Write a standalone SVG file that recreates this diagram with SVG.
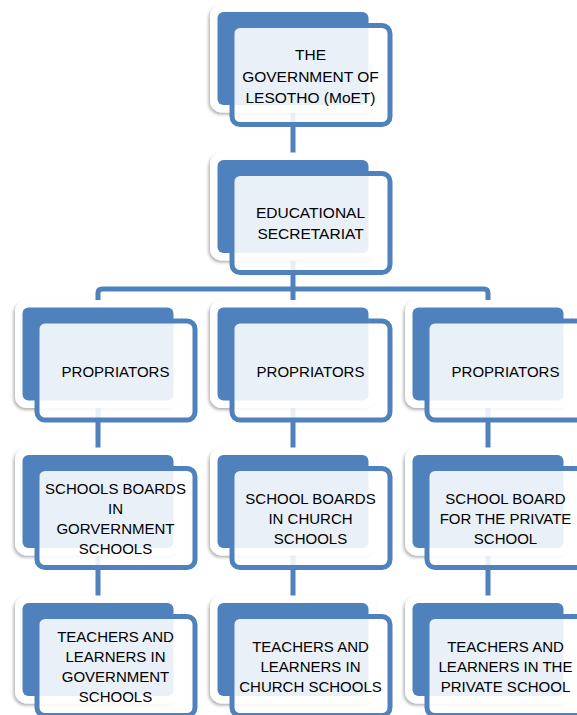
<svg xmlns="http://www.w3.org/2000/svg" width="577" height="715" viewBox="0 0 577 715">
  <defs>
    <filter id="soft" x="-10%" y="-10%" width="125%" height="125%">
      <feDropShadow dx="-1.5" dy="2" stdDeviation="1.8" flood-color="#000" flood-opacity="0.3"/>
    </filter>
  </defs>
  <style>
    .wire{fill:none;stroke:#4F81BD;stroke-width:5;stroke-linejoin:round}
    .mat{fill:#fff;filter:url(#soft)}
    .tab{fill:#4F81BD}
    .card{fill:#fff;fill-opacity:0.88;stroke:#4F81BD;stroke-width:5}
    text{font-family:"Liberation Sans",Arial,sans-serif;font-size:15px;fill:#000;text-anchor:middle}
    .big{font-size:15.5px}
  </style>
  <rect width="577" height="715" fill="#fff"/>

  <!-- connectors sit beneath the boxes -->
  <g id="connectors" class="wire">
    <path d="M293,58 V206"/>
    <path d="M293,206 V354"/>
    <path d="M98,354 V293 Q98,289 102,289 H484 Q488,289 488,293 V354"/>
    <path d="M98,354 V650"/>
    <path d="M293,354 V650"/>
    <path d="M488,354 V650"/>
  </g>

  <!-- level 1 -->
  <g id="ministry" transform="translate(217.5,12)">
    <rect class="mat" x="-7.5" y="-7.5" width="166" height="108" rx="12"/>
    <rect class="tab" width="151" height="93" rx="6"/>
    <rect class="card" x="14.5" y="13.5" width="158" height="99" rx="8"/>
    <text class="big" x="93" y="48">THE</text>
    <text class="big" x="93" y="69.5">GOVERNMENT OF</text>
    <text class="big" x="93" y="91">LESOTHO (MoET)</text>
  </g>

  <!-- level 2 -->
  <g id="secretariat" transform="translate(217.5,160)">
    <rect class="mat" x="-7.5" y="-7.5" width="166" height="108" rx="12"/>
    <rect class="tab" width="151" height="93" rx="6"/>
    <rect class="card" x="14.5" y="13.5" width="158" height="99" rx="8"/>
    <text class="big" x="93" y="58">EDUCATIONAL</text>
    <text class="big" x="93" y="79">SECRETARIAT</text>
  </g>

  <!-- level 3: proprietors -->
  <g id="proprietors-gov" transform="translate(22.5,307.5)">
    <rect class="mat" x="-7.5" y="-7.5" width="166" height="108" rx="12"/>
    <rect class="tab" width="151" height="93" rx="6"/>
    <rect class="card" x="14.5" y="13.5" width="158" height="99" rx="8"/>
    <text x="93" y="69">PROPRIATORS</text>
  </g>
  <g id="proprietors-church" transform="translate(217.5,307.5)">
    <rect class="mat" x="-7.5" y="-7.5" width="166" height="108" rx="12"/>
    <rect class="tab" width="151" height="93" rx="6"/>
    <rect class="card" x="14.5" y="13.5" width="158" height="99" rx="8"/>
    <text x="93" y="69">PROPRIATORS</text>
  </g>
  <g id="proprietors-private" transform="translate(412.5,307.5)">
    <rect class="mat" x="-7.5" y="-7.5" width="166" height="108" rx="12"/>
    <rect class="tab" width="151" height="93" rx="6"/>
    <rect class="card" x="14.5" y="13.5" width="158" height="99" rx="8"/>
    <text x="93" y="69">PROPRIATORS</text>
  </g>

  <!-- level 4: school boards -->
  <g id="boards-gov" transform="translate(22.5,455)">
    <rect class="mat" x="-7.5" y="-7.5" width="166" height="108" rx="12"/>
    <rect class="tab" width="151" height="93" rx="6"/>
    <rect class="card" x="14.5" y="13.5" width="158" height="99" rx="8"/>
    <text x="93" y="38.5">SCHOOLS BOARDS</text>
    <text x="93" y="58.5">IN</text>
    <text x="93" y="78.5">GORVERNMENT</text>
    <text x="93" y="98.5">SCHOOLS</text>
  </g>
  <g id="boards-church" transform="translate(217.5,455)">
    <rect class="mat" x="-7.5" y="-7.5" width="166" height="108" rx="12"/>
    <rect class="tab" width="151" height="93" rx="6"/>
    <rect class="card" x="14.5" y="13.5" width="158" height="99" rx="8"/>
    <text x="93" y="48.5">SCHOOL BOARDS</text>
    <text x="93" y="68.5">IN CHURCH</text>
    <text x="93" y="88.5">SCHOOLS</text>
  </g>
  <g id="boards-private" transform="translate(412.5,455)">
    <rect class="mat" x="-7.5" y="-7.5" width="166" height="108" rx="12"/>
    <rect class="tab" width="151" height="93" rx="6"/>
    <rect class="card" x="14.5" y="13.5" width="158" height="99" rx="8"/>
    <text x="93" y="48.5">SCHOOL BOARD</text>
    <text x="93" y="68.5">FOR THE PRIVATE</text>
    <text x="93" y="88.5">SCHOOL</text>
  </g>

  <!-- level 5: teachers and learners -->
  <g id="learners-gov" transform="translate(22.5,603)">
    <rect class="mat" x="-7.5" y="-7.5" width="166" height="108" rx="12"/>
    <rect class="tab" width="151" height="93" rx="6"/>
    <rect class="card" x="14.5" y="13.5" width="158" height="99" rx="8"/>
    <text x="93" y="38.5">TEACHERS AND</text>
    <text x="93" y="58.5">LEARNERS IN</text>
    <text x="93" y="78.5">GOVERNMENT</text>
    <text x="93" y="98.5">SCHOOLS</text>
  </g>
  <g id="learners-church" transform="translate(217.5,603)">
    <rect class="mat" x="-7.5" y="-7.5" width="166" height="108" rx="12"/>
    <rect class="tab" width="151" height="93" rx="6"/>
    <rect class="card" x="14.5" y="13.5" width="158" height="99" rx="8"/>
    <text x="93" y="48.5">TEACHERS AND</text>
    <text x="93" y="68.5">LEARNERS IN</text>
    <text x="93" y="88.5">CHURCH SCHOOLS</text>
  </g>
  <g id="learners-private" transform="translate(412.5,603)">
    <rect class="mat" x="-7.5" y="-7.5" width="166" height="108" rx="12"/>
    <rect class="tab" width="151" height="93" rx="6"/>
    <rect class="card" x="14.5" y="13.5" width="158" height="99" rx="8"/>
    <text x="93" y="48.5">TEACHERS AND</text>
    <text x="93" y="68.5">LEARNERS IN THE</text>
    <text x="93" y="88.5">PRIVATE SCHOOL</text>
  </g>
</svg>
